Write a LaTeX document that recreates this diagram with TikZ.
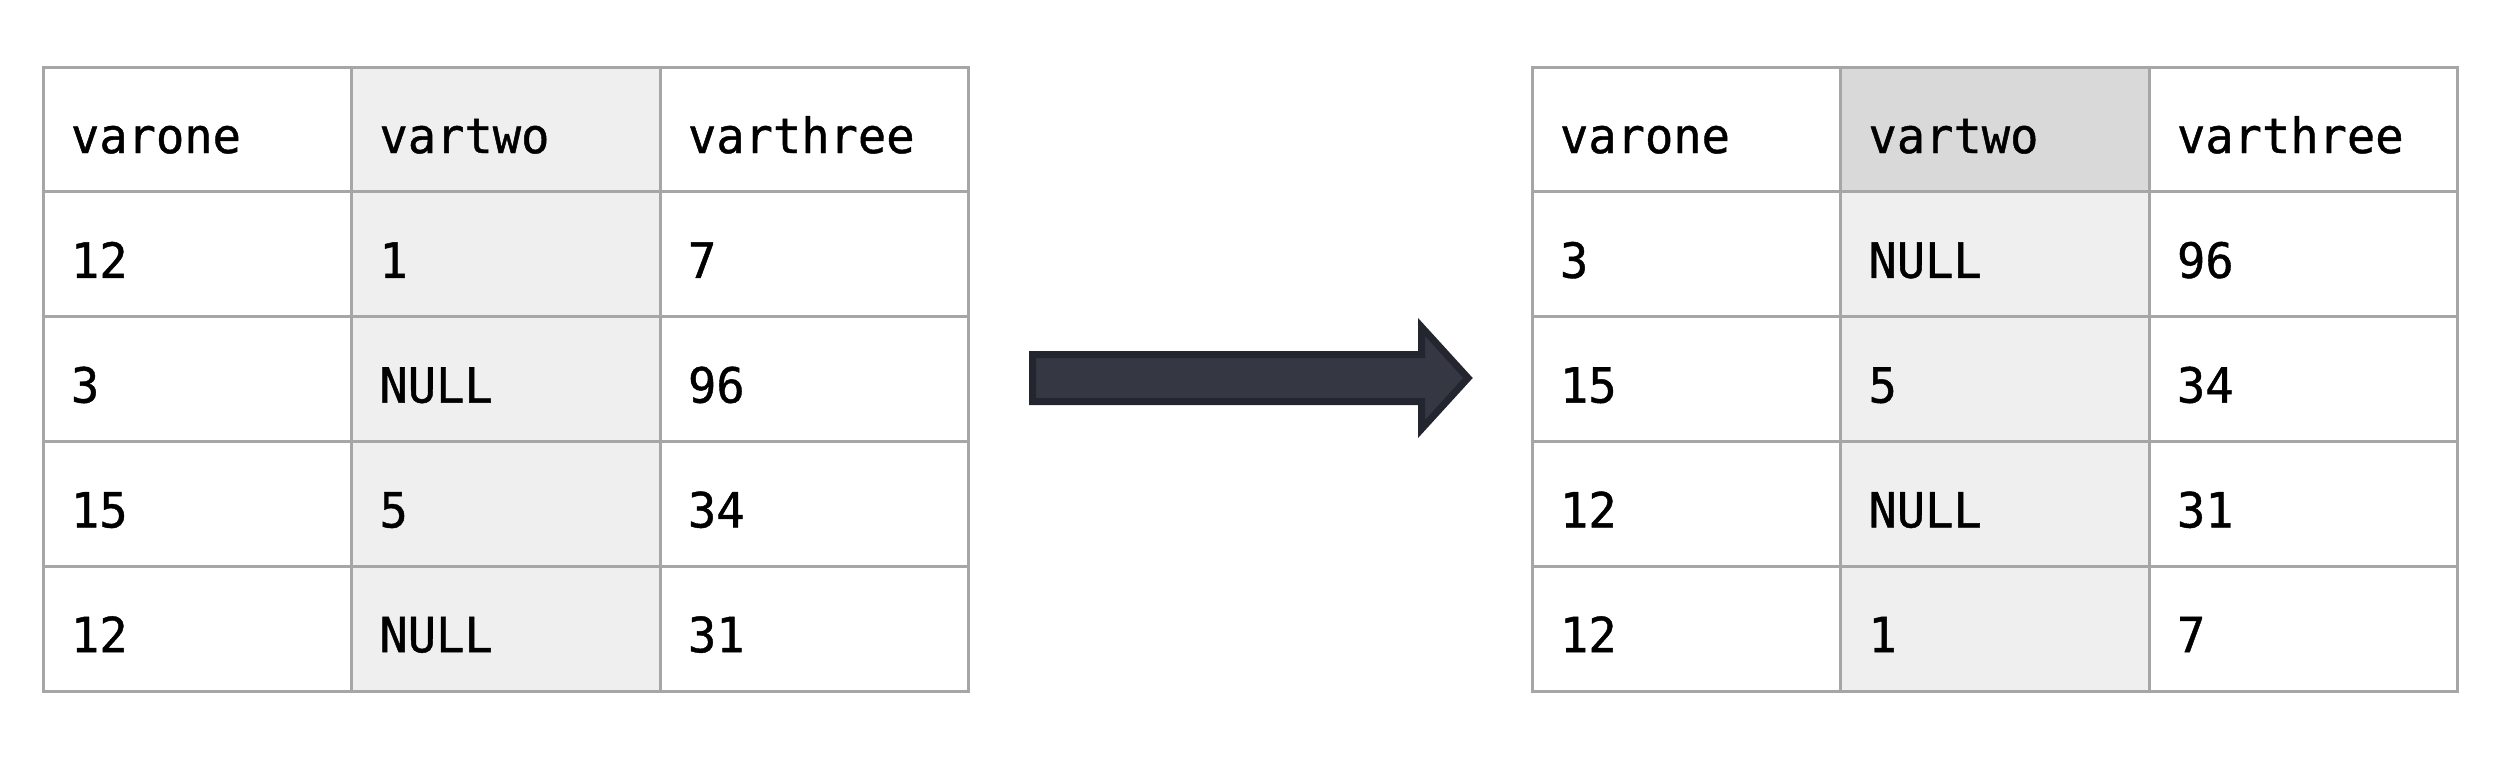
\documentclass[tikz,border=0pt]{standalone}
\usepackage{fontspec}
\setmonofont[FakeBold=0.9,FakeStretch=0.97]{DejaVu Sans Mono}
\definecolor{gridgray}{HTML}{A6A6A6}
\definecolor{colshade}{HTML}{EFEFEF}
\definecolor{headshade}{HTML}{D9D9D9}
\definecolor{arrowfill}{HTML}{353743}
\definecolor{arrowline}{HTML}{23262E}
\begin{document}
\begin{tikzpicture}[x=1pt,y=-1pt,
  cell/.style={draw=gridgray, line width=3pt, minimum width=308.5pt, minimum height=124.8pt,
    anchor=north west, inner sep=0pt, outer sep=0pt},
  plain/.style={cell},
  shaded/.style={cell, fill=colshade},
  headcell/.style={cell, fill=headshade},
  txt/.style={anchor=base west, inner sep=0pt, outer sep=0pt, text=black,
    font=\ttfamily\fontsize{48.5}{58}\selectfont},
  blockarrow/.style={fill=arrowfill, draw=arrowline, line width=7pt, line join=miter}]
\useasboundingbox (0,0) rectangle (2500,758);
% left table
\foreach \r/\a/\b/\c in {0/varone/vartwo/varthree, 1/12/1/7, 2/3/NULL/96, 3/15/5/34, 4/12/NULL/31}{
  \pgfmathsetmacro{\yy}{67+124.8*\r}
  \node[plain]  (L-\r-1) at (43,\yy) {};
  \node[shaded] (L-\r-2) at (351.5,\yy) {};
  \node[plain]  (L-\r-3) at (660,\yy) {};
  \node[txt] (LT-\r-1) at (71,\yy+86) {\a};
  \node[txt] (LT-\r-2) at (379.5,\yy+86) {\b};
  \node[txt] (LT-\r-3) at (688,\yy+86) {\c};
}
% right table
\foreach \r/\a/\b/\c/\s in {0/varone/vartwo/varthree/headcell, 1/3/NULL/96/shaded, 2/15/5/34/shaded, 3/12/NULL/31/shaded, 4/12/1/7/shaded}{
  \pgfmathsetmacro{\yy}{67+124.8*\r}
  \node[plain] (R-\r-1) at (1532,\yy) {};
  \node[\s]    (R-\r-2) at (1840.5,\yy) {};
  \node[plain] (R-\r-3) at (2149,\yy) {};
  \node[txt] (RT-\r-1) at (1560,\yy+86) {\a};
  \node[txt] (RT-\r-2) at (1868.5,\yy+86) {\b};
  \node[txt] (RT-\r-3) at (2177,\yy+86) {\c};
}
% block arrow
\draw[blockarrow] (1032.5,354.5) -- (1421.5,354.5) -- (1421.5,327) -- (1468,378)
  -- (1421.5,429) -- (1421.5,401.5) -- (1032.5,401.5) -- cycle;
\end{tikzpicture}
\end{document}
